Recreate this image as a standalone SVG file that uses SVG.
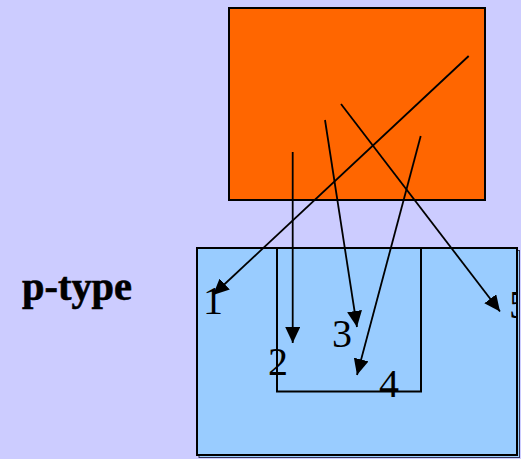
<svg xmlns="http://www.w3.org/2000/svg" width="521" height="459" viewBox="0 0 521 459">
<style>
.box{stroke:#000;stroke-width:2}
.num{font-family:"Liberation Serif","Times New Roman",serif;font-size:40px;fill:#000}
.lbl{font-family:"Liberation Serif","Times New Roman",serif;font-size:40px;font-weight:bold;fill:#000;stroke:#000;stroke-width:0.6}
.conn{stroke:#000;stroke-width:1.8;fill:none;marker-end:url(#ah)}
</style>
<defs>
<marker id="ah" markerUnits="userSpaceOnUse" markerWidth="17" markerHeight="15" refX="16" refY="7.5" orient="auto" viewBox="0 0 17 15">
<path d="M0,0 L16,7.5 L0,15 z" fill="#000"/>
</marker>
<clipPath id="clip5"><rect x="0" y="0" width="516" height="459"/></clipPath>
</defs>
<rect width="521" height="459" fill="#CCCCFF"/>
<g id="label-ptype"><text class="lbl" x="22" y="300" textLength="110" lengthAdjust="spacingAndGlyphs">p-type</text></g>
<g id="substrate">
<rect x="199" y="250.5" width="320.5" height="207" fill="#99CCFF" stroke="#335" stroke-width="1"/>
<rect class="box" x="197" y="248" width="320" height="207" fill="#99CCFF"/>
</g>
<g id="well"><path class="box" d="M277,248 V391.5 H421 V248" fill="none"/></g>
<g id="source"><rect class="box" x="229" y="8" width="256" height="192" fill="#FF6600"/></g>
<g id="labels">
<text class="num" x="203" y="314">1</text>
<text class="num" x="268" y="375">2</text>
<text class="num" x="332" y="347">3</text>
<text class="num" x="379" y="397">4</text>
<text class="num" x="509" y="318" clip-path="url(#clip5)">5</text>
</g>
<g id="connectors">
<line class="conn" x1="468.7" y1="56" x2="213" y2="295"/>
<line class="conn" x1="292.7" y1="152" x2="292.7" y2="343"/>
<line class="conn" x1="325" y1="120" x2="357" y2="327"/>
<line class="conn" x1="420.7" y1="136" x2="357" y2="375"/>
<line class="conn" x1="341" y1="104" x2="500" y2="311.5"/>
</g>
</svg>
